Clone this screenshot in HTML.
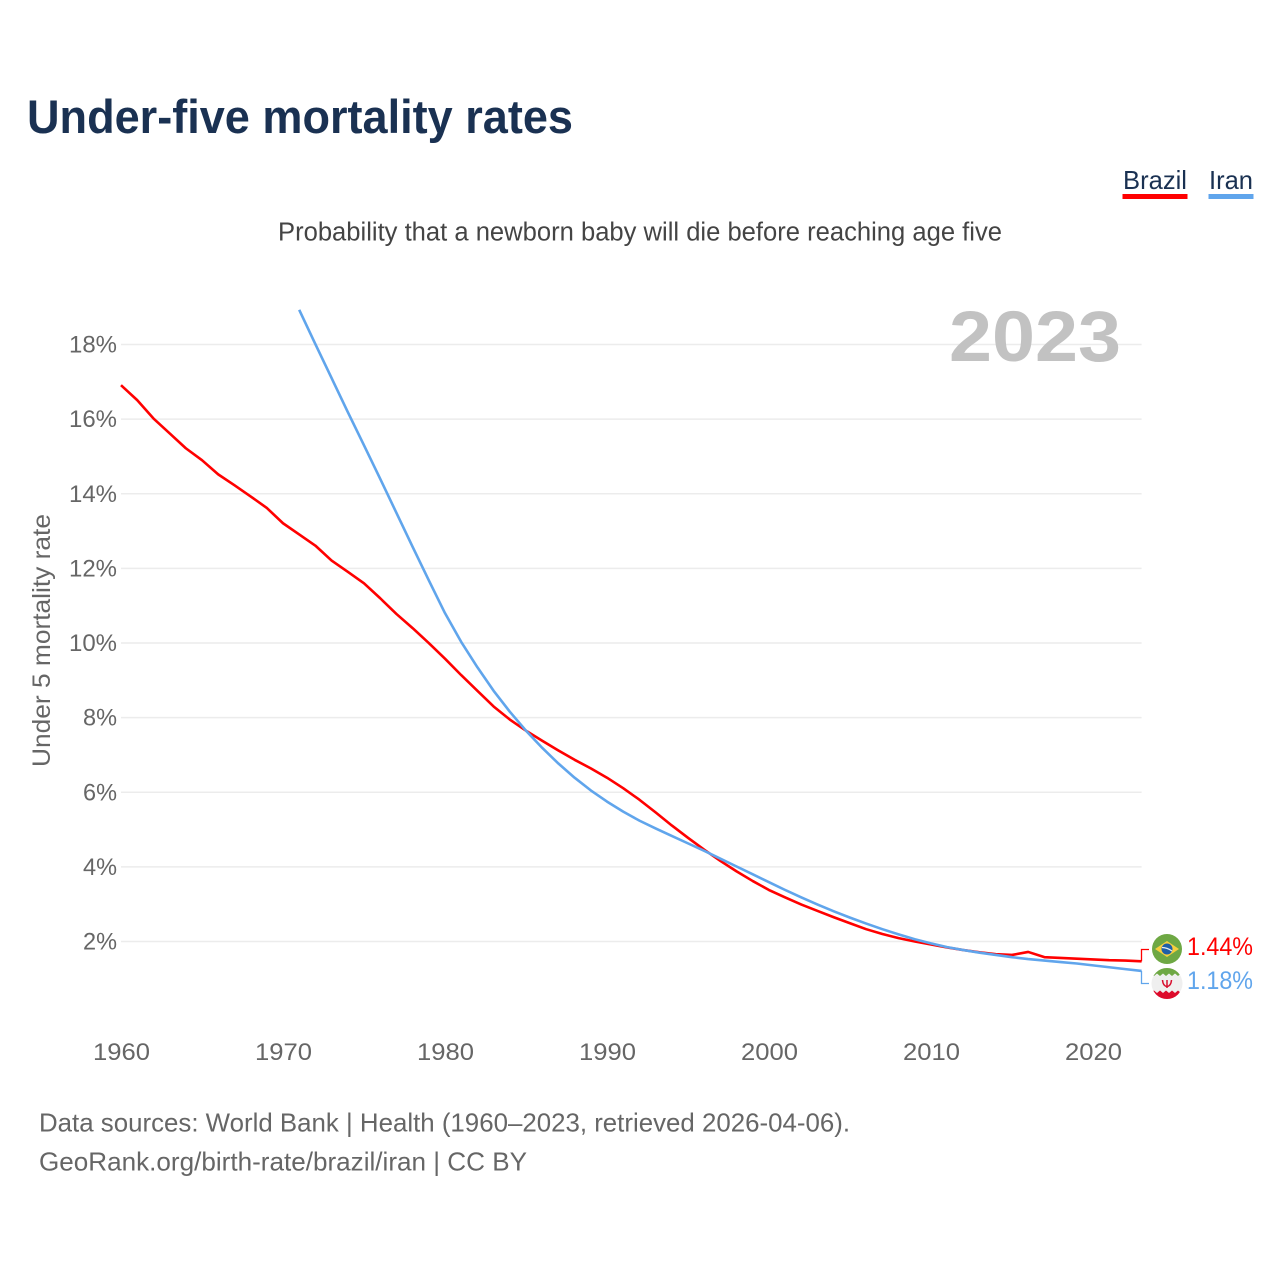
<!DOCTYPE html>
<html lang="en">
<head>
<meta charset="utf-8">
<title>Under-five mortality rates</title>
<style>
html,body{margin:0;padding:0;background:#fff;width:1280px;height:1280px;overflow:hidden}
svg{display:block}
text{font-family:"Liberation Sans",sans-serif}
</style>
</head>
<body>
<svg id="chart" width="1280" height="1280" viewBox="0 0 1280 1280" xmlns="http://www.w3.org/2000/svg">
  <rect width="1280" height="1280" fill="#fff"/>
  <text x="27" y="133" font-size="47" font-weight="700" fill="#1a3152" textLength="546" lengthAdjust="spacingAndGlyphs">Under-five mortality rates</text>

  <g>
    <text x="1123" y="189" font-size="26" fill="#1a3152" textLength="64" lengthAdjust="spacingAndGlyphs">Brazil</text>
    <rect x="1122.500" y="194" width="65" height="5" fill="#ff0000"/>
  </g>
  <g>
    <text x="1209" y="189" font-size="26" fill="#1a3152" textLength="44" lengthAdjust="spacingAndGlyphs">Iran</text>
    <rect x="1208.500" y="194" width="45" height="5" fill="#60a5ec"/>
  </g>

  <text x="278" y="240.500" font-size="25.5" fill="#444" textLength="724" lengthAdjust="spacingAndGlyphs">Probability that a newborn baby will die before reaching age five</text>

  <g id="grid"></g>
  <g id="yticks"></g>
  <g id="xticks"></g>

  <text x="949" y="361" font-size="71" font-weight="700" fill="#c2c2c2" textLength="172" lengthAdjust="spacingAndGlyphs">2023</text>

  <text transform="translate(50,767) rotate(-90)" font-size="25" fill="#666" textLength="253" lengthAdjust="spacingAndGlyphs">Under 5 mortality rate</text>

  <g id="series"></g>

  <g>
    <circle cx="1167" cy="949" r="15" fill="#6ea844"/>
    <polygon points="1155,949 1167,941 1179,949 1167,957" fill="#f5cf3f"/>
    <circle cx="1167" cy="949" r="5.5" fill="#1f5fa8"/>
    <path d="M1162 947.500Q1167 947.500 1172 951" stroke="#e8eef2" stroke-width="1.200" fill="none"/>
  </g>
  <g>
    <clipPath id="iran-clip"><circle cx="1167" cy="983.500" r="15.500"/></clipPath>
    <g clip-path="url(#iran-clip)">
      <rect x="1150" y="966" width="34" height="36" fill="#efefef"/>
      <polygon points="1150,966 1184,966 1184,976 1181,973.500 1178,976 1175,973.500 1172,976 1169,973.500 1166,976 1163,973.500 1160,976 1157,973.500 1154,976 1150,973.500" fill="#6ea844"/>
      <polygon points="1150,993 1154,990.500 1157,993 1160,990.500 1163,993 1166,990.500 1169,993 1172,990.500 1175,993 1178,990.500 1181,993 1184,990.500 1184,1002 1150,1002" fill="#dd0b2b"/>
      <path d="M1162.500 980Q1163 986 1167 986.500Q1171 986 1171.500 980M1167 980V988" stroke="#d8102f" stroke-width="1.500" fill="none"/>
    </g>
  </g>

  <g id="endlabels"></g>

  <text x="39" y="1131.500" font-size="26" fill="#666" textLength="811" lengthAdjust="spacingAndGlyphs">Data sources: World Bank | Health (1960–2023, retrieved 2026-04-06).</text>
  <text x="39" y="1170.500" font-size="26" fill="#666" textLength="488" lengthAdjust="spacingAndGlyphs">GeoRank.org/birth-rate/brazil/iran | CC BY</text>
</svg>
<script>
const xTickYears = [1960,1970,1980,1990,2000,2010,2020];
const yTickValues = [2,4,6,8,10,12,14,16,18];
const brazilStartYear = 1960;
const brazilValues = [16.91,16.51,16.02,15.62,15.22,14.9,14.52,14.23,13.93,13.62,13.21,12.91,12.61,12.21,11.91,11.6,11.2,10.78,10.4,10.0,9.58,9.14,8.72,8.3,7.95,7.65,7.38,7.12,6.87,6.64,6.39,6.11,5.8,5.46,5.11,4.78,4.46,4.16,3.88,3.62,3.38,3.18,2.99,2.82,2.65,2.49,2.33,2.2,2.09,2,1.92,1.84,1.77,1.71,1.66,1.64,1.72,1.58,1.56,1.54,1.52,1.5,1.49,1.47];
const iranStartYear = 1971;
const iranValues = [18.93,18.01,17.1,16.19,15.3,14.4,13.49,12.58,11.68,10.8,10.03,9.35,8.72,8.16,7.65,7.19,6.77,6.39,6.05,5.75,5.48,5.24,5.03,4.83,4.63,4.43,4.22,4.01,3.8,3.59,3.38,3.18,2.99,2.81,2.64,2.48,2.33,2.19,2.06,1.95,1.85,1.77,1.7,1.64,1.58,1.53,1.49,1.45,1.41,1.36,1.31,1.26,1.21];
const endLabelTexts = ['1.44%','1.18%'];

const NS = 'http://www.w3.org/2000/svg';
const RED = '#ff0000';
const BLUE = '#60a5ec';
function x(year){ return 121 + (year - 1960) * 16.2; }
function y(value){ return 941.5 - (value - 2) * 37.31; }
function make(tag, attrs, parent, content){
  const el = document.createElementNS(NS, tag);
  for (const k in attrs) el.setAttribute(k, attrs[k]);
  if (content !== undefined) el.textContent = content;
  parent.appendChild(el);
  return el;
}
const grid = document.getElementById('grid');
const yticks = document.getElementById('yticks');
const xticks = document.getElementById('xticks');
const series = document.getElementById('series');
const endlabels = document.getElementById('endlabels');

yTickValues.forEach(function(v){
  const line = make('line', {x1:121, x2:1141.6, y1:y(v), y2:y(v), stroke:'#ececec', 'stroke-width':1.5}, grid);
  
  
  const label = v + '%';
  const t = make('text', {x:117, y:y(v)+8, 'text-anchor':'end', 'font-size':24.5, fill:'#666', textLength:label.length === 3 ? 48 : 34, lengthAdjust:'spacingAndGlyphs'}, yticks, label);
  
  
});
xTickYears.forEach(function(yr){
  const t = make('text', {x:x(yr)+0.5, y:1060, 'text-anchor':'middle', 'font-size':24.5, fill:'#666', textLength:57, lengthAdjust:'spacingAndGlyphs'}, xticks, String(yr));
  
  
});
function linePoints(startYear, values){
  return values.map(function(v, i){ return x(startYear + i).toFixed(2) + ',' + y(v).toFixed(2); }).join(' ');
}
const brazilLine = make('polyline', {points:linePoints(brazilStartYear, brazilValues), fill:'none', stroke:RED, 'stroke-width':2.6, 'stroke-linejoin':'round'}, series);


const iranLine = make('polyline', {points:linePoints(iranStartYear, iranValues), fill:'none', stroke:BLUE, 'stroke-width':2.6, 'stroke-linejoin':'round'}, series);



const lastX = Math.floor(x(2023)) + 0.5;
const brazilEnd = y(brazilValues[brazilValues.length - 1]);
const iranEnd = y(iranValues[iranValues.length - 1]);
const brazilConnector = make('polyline', {points:lastX+','+brazilEnd+' '+lastX+',949.5 1149,949.5', fill:'none', stroke:RED, 'stroke-width':1.3}, endlabels);


const iranConnector = make('polyline', {points:lastX+','+iranEnd+' '+lastX+',983.5 1149,983.5', fill:'none', stroke:BLUE, 'stroke-width':1.3}, endlabels);


const brazilLabel = make('text', {x:1187, y:955, 'font-size':25, fill:RED, textLength:66, lengthAdjust:'spacingAndGlyphs'}, endlabels, endLabelTexts[0]);


const iranLabel = make('text', {x:1187, y:989, 'font-size':25, fill:BLUE, textLength:66, lengthAdjust:'spacingAndGlyphs'}, endlabels, endLabelTexts[1]);


</script>
</body>
</html>
